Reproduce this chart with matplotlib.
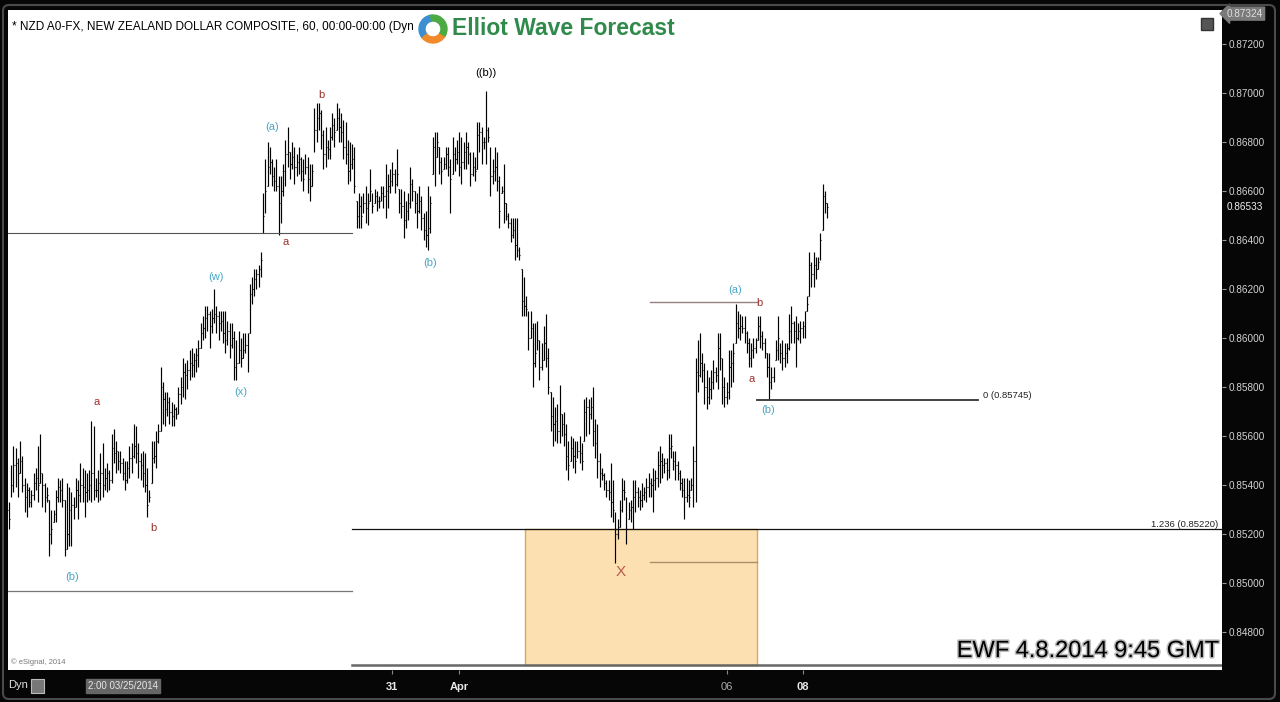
import numpy as np
import matplotlib.pyplot as plt
import matplotlib.patheffects as pe
from matplotlib.patches import Rectangle, Wedge, FancyBboxPatch

plt.rcParams['font.family'] = ['Liberation Sans', 'DejaVu Sans']

# ---------------- hourly bars ----------------
high = [
    0.8533, 0.8548, 0.8556, 0.8555, 0.8551, 0.8558, 0.8552, 0.8543, 0.8541, 0.8539,
    0.8538, 0.8545, 0.8547, 0.8556, 0.8561, 0.8545, 0.8541, 0.8539, 0.8534, 0.8530,
    0.8530, 0.8538, 0.8543, 0.8542, 0.8543, 0.8534, 0.8541, 0.8539, 0.8537, 0.8535,
    0.8543, 0.8542, 0.8549, 0.8547, 0.8546, 0.8545, 0.8546, 0.8566, 0.8564, 0.8543,
    0.8546, 0.8553, 0.8557, 0.8547, 0.8549, 0.8546, 0.8561, 0.8563, 0.8558, 0.8554,
    0.8554, 0.8551, 0.8550, 0.8550, 0.8556, 0.8557, 0.8565, 0.8564, 0.8557, 0.8553,
    0.8554, 0.8553, 0.8547, 0.8538, 0.8558, 0.8558, 0.8562, 0.8565, 0.8588, 0.8582,
    0.8578, 0.8578, 0.8576, 0.8574, 0.8573, 0.8572, 0.8580, 0.8584, 0.8592, 0.8590,
    0.8591, 0.8595, 0.8596, 0.8594, 0.8596, 0.8599, 0.8606, 0.8609, 0.8613, 0.8613,
    0.8611, 0.8612, 0.8620, 0.8613, 0.8611, 0.8611, 0.8611, 0.8611, 0.8607, 0.8606,
    0.8606, 0.8603, 0.8599, 0.8603, 0.8600, 0.8602, 0.8602, 0.8602, 0.8622, 0.8625,
    0.8628, 0.8628, 0.8630,
    0.8635, 0.8659, 0.8673, 0.8680, 0.8678, 0.8673, 0.8670, 0.8673, 0.8666, 0.8666,
    0.8671, 0.8681, 0.8686, 0.8676, 0.8680, 0.8678, 0.8675, 0.8678, 0.8674, 0.8673,
    0.8675, 0.8674, 0.8671, 0.8671, 0.8694, 0.8696, 0.8696, 0.8693, 0.8685, 0.8686,
    0.8681, 0.8686, 0.8692, 0.8690, 0.8696, 0.8694, 0.8692, 0.8689, 0.8688, 0.8681,
    0.8680, 0.8679, 0.8678, 0.8656, 0.8659, 0.8658, 0.8659, 0.8662, 0.8659, 0.8669,
    0.8659, 0.8661, 0.8660, 0.8658, 0.8662, 0.8662, 0.8671, 0.8667, 0.8669, 0.8672,
    0.8669, 0.8677, 0.8661, 0.8661, 0.8660, 0.8656, 0.8659, 0.8670, 0.8665, 0.8660,
    0.8659, 0.8662, 0.8658, 0.8651, 0.8652, 0.8662, 0.8658, 0.8682, 0.8684, 0.8684,
    0.8678, 0.8674, 0.8674, 0.8678, 0.8678, 0.8673, 0.8682, 0.8678, 0.8681, 0.8684,
    0.8682, 0.8680, 0.8684, 0.8680, 0.8676, 0.8676, 0.8674, 0.8688, 0.8688, 0.8686,
    0.8682, 0.8701, 0.8686, 0.8678, 0.8673, 0.8678, 0.8676, 0.8666, 0.8662, 0.8671,
    0.8655, 0.8651, 0.8649, 0.8649, 0.8649,
    0.8649, 0.8637, 0.8628, 0.8625, 0.8617, 0.8611, 0.8611, 0.8606, 0.8606, 0.8607,
    0.8599, 0.8598, 0.8605, 0.8610, 0.8596,
    0.8578, 0.8576, 0.8572, 0.8573, 0.8581, 0.8569, 0.8570, 0.8565, 0.8558, 0.8560,
    0.8559, 0.8558, 0.8558, 0.8560, 0.8557, 0.8575, 0.8576, 0.8575, 0.8576, 0.8580,
    0.8567, 0.8565, 0.8553, 0.8547, 0.8545, 0.8542, 0.8542, 0.8549, 0.8542, 0.8529,
    0.8526, 0.8534, 0.8543, 0.8542, 0.8535, 0.8533, 0.8534, 0.8542, 0.8542, 0.8539,
    0.8538, 0.8541, 0.8539, 0.8543, 0.8545, 0.8543, 0.8547, 0.8546, 0.8554, 0.8556,
    0.8553, 0.8551, 0.8551, 0.8561, 0.8561, 0.8554, 0.8554, 0.8550, 0.8546, 0.8543,
    0.8543, 0.8543, 0.8542, 0.8543,
    0.8556, 0.8592, 0.8599, 0.8602, 0.8594, 0.8590, 0.8587, 0.8584, 0.8587, 0.8591,
    0.8588, 0.8602, 0.8602, 0.8592, 0.8584, 0.8582, 0.8595, 0.8595, 0.8598, 0.8614,
    0.8611, 0.8610, 0.8609, 0.8609, 0.8603, 0.8600, 0.8598, 0.8600, 0.8600, 0.8609,
    0.8609, 0.8603, 0.8600, 0.8594, 0.8594, 0.8588, 0.8588, 0.8599, 0.8609, 0.8598,
    0.8599, 0.8598, 0.8598, 0.8610, 0.8613, 0.8607, 0.8609, 0.8606, 0.8607, 0.8607,
    0.8611, 0.8617, 0.8635, 0.8631, 0.8635, 0.8633, 0.8633, 0.8643, 0.8663, 0.8660,
    0.8655,
]

low = [
    0.8522, 0.8535, 0.8537, 0.8539, 0.8535, 0.8545, 0.8537, 0.8529, 0.8527, 0.8531,
    0.8531, 0.8534, 0.8538, 0.8533, 0.8541, 0.8531, 0.8529, 0.8533, 0.8511, 0.8516,
    0.8525, 0.8525, 0.8533, 0.8533, 0.8531, 0.8511, 0.8514, 0.8515, 0.8515, 0.8526,
    0.8531, 0.8526, 0.8533, 0.8533, 0.8527, 0.8533, 0.8534, 0.8533, 0.8534, 0.8535,
    0.8533, 0.8534, 0.8535, 0.8538, 0.8537, 0.8538, 0.8541, 0.8549, 0.8545, 0.8546,
    0.8545, 0.8542, 0.8538, 0.8541, 0.8543, 0.8545, 0.8551, 0.8549, 0.8543, 0.8542,
    0.8539, 0.8537, 0.8527, 0.8533, 0.8541, 0.8549, 0.8547, 0.8557, 0.8562, 0.8565,
    0.8564, 0.8568, 0.8565, 0.8564, 0.8564, 0.8567, 0.8569, 0.8573, 0.8576, 0.8575,
    0.8579, 0.8583, 0.8584, 0.8584, 0.8586, 0.8588, 0.8596, 0.8599, 0.8600, 0.8603,
    0.8596, 0.8602, 0.8606, 0.8602, 0.8599, 0.8603, 0.8598, 0.8594, 0.8597, 0.8592,
    0.8596, 0.8583, 0.8583, 0.8590, 0.8588, 0.8592, 0.8594, 0.8586, 0.8602, 0.8614,
    0.8617, 0.8620, 0.8621,
    0.8625, 0.8643, 0.8651, 0.8662, 0.8667, 0.8662, 0.8660, 0.8660, 0.8642, 0.8647,
    0.8658, 0.8662, 0.8670, 0.8665, 0.8669, 0.8663, 0.8666, 0.8667, 0.8664, 0.8660,
    0.8667, 0.8659, 0.8656, 0.8662, 0.8676, 0.8680, 0.8685, 0.8677, 0.8669, 0.8670,
    0.8673, 0.8673, 0.8681, 0.8678, 0.8685, 0.8680, 0.8680, 0.8673, 0.8671, 0.8663,
    0.8664, 0.8669, 0.8659, 0.8645, 0.8645, 0.8645, 0.8651, 0.8647, 0.8646, 0.8656,
    0.8651, 0.8655, 0.8652, 0.8653, 0.8656, 0.8653, 0.8649, 0.8653, 0.8659, 0.8662,
    0.8659, 0.8662, 0.8651, 0.8649, 0.8641, 0.8645, 0.8648, 0.8653, 0.8656, 0.8651,
    0.8645, 0.8651, 0.8644, 0.8640, 0.8637, 0.8636, 0.8643, 0.8667, 0.8662, 0.8674,
    0.8667, 0.8663, 0.8669, 0.8669, 0.8666, 0.8651, 0.8667, 0.8668, 0.8671, 0.8666,
    0.8663, 0.8669, 0.8669, 0.8671, 0.8662, 0.8666, 0.8664, 0.8669, 0.8676, 0.8671,
    0.8677, 0.8671, 0.8680, 0.8658, 0.8663, 0.8664, 0.8660, 0.8645, 0.8659, 0.8647,
    0.8648, 0.8645, 0.8639, 0.8641, 0.8632,
    0.8633, 0.8632, 0.8609, 0.8609, 0.8609, 0.8595, 0.8600, 0.8580, 0.8588, 0.8595,
    0.8583, 0.8587, 0.8591, 0.8588, 0.8577,
    0.8562, 0.8556, 0.8558, 0.8557, 0.8557, 0.8560, 0.8556, 0.8546, 0.8542, 0.8550,
    0.8547, 0.8545, 0.8551, 0.8549, 0.8546, 0.8558, 0.8560, 0.8561, 0.8567, 0.8556,
    0.8551, 0.8543, 0.8539, 0.8542, 0.8538, 0.8535, 0.8534, 0.8527, 0.8525, 0.8508,
    0.8518, 0.8523, 0.8529, 0.8534, 0.8516, 0.8526, 0.8525, 0.8522, 0.8529, 0.8531,
    0.8530, 0.8531, 0.8534, 0.8533, 0.8535, 0.8535, 0.8529, 0.8538, 0.8539, 0.8541,
    0.8543, 0.8545, 0.8542, 0.8543, 0.8551, 0.8546, 0.8542, 0.8542, 0.8538, 0.8535,
    0.8526, 0.8533, 0.8531, 0.8538,
    0.8531, 0.8533, 0.8578, 0.8584, 0.8582, 0.8573, 0.8571, 0.8573, 0.8575, 0.8579,
    0.8582, 0.8579, 0.8587, 0.8573, 0.8572, 0.8573, 0.8575, 0.8580, 0.8582, 0.8598,
    0.8600, 0.8599, 0.8602, 0.8598, 0.8594, 0.8588, 0.8588, 0.8592, 0.8594, 0.8599,
    0.8596, 0.8595, 0.8592, 0.8584, 0.8575, 0.8579, 0.8582, 0.8591, 0.8591, 0.8590,
    0.8587, 0.8588, 0.8590, 0.8595, 0.8598, 0.8598, 0.8588, 0.8599, 0.8598, 0.8600,
    0.8600, 0.8611, 0.8617, 0.8621, 0.8621, 0.8624, 0.8628, 0.8632, 0.8644, 0.8651,
    0.8649,
]

close = [
    0.8526, 0.8540, 0.8548, 0.8549, 0.8545, 0.8550, 0.8540, 0.8535, 0.8538, 0.8533,
    0.8536, 0.8541, 0.8543, 0.8540, 0.8545, 0.8540, 0.8535, 0.8536, 0.8520, 0.8522,
    0.8528, 0.8535, 0.8539, 0.8538, 0.8534, 0.8513, 0.8520, 0.8530, 0.8532, 0.8531,
    0.8538, 0.8536, 0.8540, 0.8539, 0.8537, 0.8538, 0.8540, 0.8545, 0.8538, 0.8538,
    0.8541, 0.8545, 0.8540, 0.8543, 0.8545, 0.8542, 0.8555, 0.8553, 0.8554, 0.8550,
    0.8549, 0.8545, 0.8542, 0.8547, 0.8551, 0.8552, 0.8556, 0.8553, 0.8550, 0.8548,
    0.8545, 0.8540, 0.8532, 0.8535, 0.8551, 0.8552, 0.8558, 0.8562, 0.8580, 0.8575,
    0.8571, 0.8574, 0.8570, 0.8568, 0.8571, 0.8569, 0.8577, 0.8580, 0.8586, 0.8585,
    0.8587, 0.8590, 0.8589, 0.8591, 0.8593, 0.8596, 0.8602, 0.8604, 0.8608, 0.8610,
    0.8605, 0.8608, 0.8610, 0.8609, 0.8606, 0.8607, 0.8602, 0.8599, 0.8603, 0.8597,
    0.8600, 0.8588, 0.8590, 0.8595, 0.8592, 0.8595, 0.8597, 0.8600, 0.8618, 0.8620,
    0.8624, 0.8626, 0.8628,
    0.8632, 0.8650, 0.8660, 0.8670, 0.8672, 0.8666, 0.8664, 0.8662, 0.8655, 0.8660,
    0.8668, 0.8675, 0.8678, 0.8671, 0.8674, 0.8670, 0.8672, 0.8673, 0.8668, 0.8665,
    0.8670, 0.8665, 0.8662, 0.8668, 0.8685, 0.8690, 0.8692, 0.8683, 0.8675, 0.8678,
    0.8677, 0.8682, 0.8687, 0.8684, 0.8690, 0.8686, 0.8684, 0.8678, 0.8675, 0.8668,
    0.8671, 0.8673, 0.8662, 0.8650, 0.8654, 0.8650, 0.8655, 0.8653, 0.8655, 0.8660,
    0.8654, 0.8658, 0.8656, 0.8656, 0.8659, 0.8658, 0.8660, 0.8662, 0.8664, 0.8667,
    0.8663, 0.8667, 0.8655, 0.8654, 0.8648, 0.8652, 0.8655, 0.8663, 0.8660, 0.8655,
    0.8652, 0.8656, 0.8649, 0.8644, 0.8642, 0.8645, 0.8655, 0.8678, 0.8670, 0.8680,
    0.8672, 0.8668, 0.8671, 0.8675, 0.8670, 0.8665, 0.8675, 0.8673, 0.8676, 0.8670,
    0.8672, 0.8676, 0.8678, 0.8675, 0.8667, 0.8670, 0.8668, 0.8683, 0.8684, 0.8680,
    0.8680, 0.8685, 0.8682, 0.8666, 0.8668, 0.8670, 0.8664, 0.8652, 0.8660, 0.8655,
    0.8650, 0.8647, 0.8642, 0.8644, 0.8638,
    0.8636, 0.8634, 0.8615, 0.8613, 0.8612, 0.8600, 0.8604, 0.8590, 0.8594, 0.8599,
    0.8588, 0.8591, 0.8598, 0.8592, 0.8580,
    0.8568, 0.8565, 0.8566, 0.8562, 0.8570, 0.8565, 0.8561, 0.8552, 0.8548, 0.8555,
    0.8552, 0.8550, 0.8554, 0.8553, 0.8550, 0.8570, 0.8572, 0.8569, 0.8572, 0.8562,
    0.8557, 0.8550, 0.8545, 0.8544, 0.8541, 0.8538, 0.8537, 0.8533, 0.8530, 0.8520,
    0.8522, 0.8530, 0.8538, 0.8537, 0.8522, 0.8530, 0.8531, 0.8535, 0.8537, 0.8535,
    0.8534, 0.8536, 0.8537, 0.8539, 0.8541, 0.8540, 0.8542, 0.8543, 0.8548, 0.8550,
    0.8548, 0.8549, 0.8546, 0.8555, 0.8556, 0.8550, 0.8548, 0.8545, 0.8541, 0.8538,
    0.8535, 0.8536, 0.8535, 0.8540,
    0.8550, 0.8586, 0.8585, 0.8590, 0.8587, 0.8580, 0.8576, 0.8579, 0.8582, 0.8586,
    0.8585, 0.8596, 0.8592, 0.8580, 0.8576, 0.8578, 0.8588, 0.8590, 0.8594, 0.8606,
    0.8604, 0.8605, 0.8604, 0.8602, 0.8598, 0.8592, 0.8595, 0.8596, 0.8598, 0.8605,
    0.8601, 0.8598, 0.8595, 0.8588, 0.8582, 0.8584, 0.8586, 0.8595, 0.8600, 0.8594,
    0.8592, 0.8594, 0.8596, 0.8603, 0.8606, 0.8603, 0.8600, 0.8603, 0.8604, 0.8605,
    0.8608, 0.8614, 0.8630, 0.8626, 0.8630, 0.8628, 0.8631, 0.8640, 0.8658, 0.8655,
    0.86533,
]

# date labels (bar index where each day starts on the chart)
date_pos = [172, 202, 322, 356]
date_lab = ['31', 'Apr', '06', '08']
date_bold = [True, True, False, True]

price_ticks = [0.848, 0.850, 0.852, 0.854, 0.856, 0.858, 0.860,
               0.862, 0.864, 0.866, 0.868, 0.870, 0.872]
last_price = 0.86533
top_price = 0.87324

# wave labels: text, bar index, price, colour
teal = '#4aa6c4'
red = '#9c2f2a'
waves = [
    ('((b))', 214, 0.87082, 'black'),
    ('b', 140, 0.86992, red),
    ('(a)', 118, 0.86861, teal),
    ('a', 124, 0.86392, red),
    ('(w)', 93, 0.86249, teal),
    ('(x)', 104, 0.85780, teal),
    ('(b)', 189, 0.86306, teal),
    ('a', 39.5, 0.85739, red),
    ('b', 65, 0.85224, red),
    ('(b)', 28.3, 0.85024, teal),
    ('(a)', 325.7, 0.86196, teal),
    ('b', 336.5, 0.86143, red),
    ('a', 333, 0.85833, red),
    ('(b)', 340.5, 0.85706, teal),
]

fib_0 = 0.85745
fib_1236 = 0.85220

# ---------------- figure ----------------
fig = plt.figure(figsize=(12.8, 7.02), dpi=100, facecolor='#060606')
ax = fig.add_axes([8 / 1280, 32 / 702, 1214 / 1280, 660 / 702])
ax.set_facecolor('white')

n = len(close)
x = np.arange(n)
hi = np.array(high[:n])
lo = np.array(low[:n])
cl = np.array(close)
op = np.concatenate([[0.8530], cl[:-1]])
op = np.clip(op, lo, hi)

ax.vlines(x, lo, hi, color='black', lw=0.85)
ax.hlines(op, x - 0.32, x, color='black', lw=0.8)
ax.hlines(cl, x, x + 0.32, color='black', lw=0.8)

ax.set_xlim(-0.45, 544.2)
ax.set_ylim(0.846449, 0.873388)

# horizontal levels (x extents in axes fraction)
ya = ax.get_yaxis_transform()
ax.add_patch(Rectangle((0.4259, 0.84665), 0.6170 - 0.4259, fib_1236 - 0.84665,
                       transform=ya, facecolor='#fde0b2', edgecolor='#d8aa55',
                       lw=1.0, zorder=0.5))
ax.axhline(0.86429, 0, 0.2834, color='#555555', lw=0.8)
ax.axhline(0.84967, 0, 0.2834, color='#777777', lw=0.9)
ax.axhline(fib_1236, 0.2834, 1, color='#111111', lw=0.9)
ax.axhline(0.84665, 0.2834, 1, color='#666666', lw=1.8)
ax.axhline(0.86147, 0.5288, 0.6178, color='#9a8080', lw=1.0)
ax.axhline(0.85086, 0.5288, 0.6170, color='#a8916a', lw=1.0)
ax.axhline(fib_0, 0.6170, 0.7990, color='#333333', lw=1.3)

ax.text(0.8032, fib_0 + 0.0002, '0 (0.85745)', transform=ya, fontsize=6.8,
        va='center', ha='left', color='#222222')
ax.text(0.9967, fib_1236 + 0.0002, '1.236 (0.85220)', transform=ya, fontsize=6.8,
        va='center', ha='right', color='#222222')

for txt, xi, yp, c in waves:
    ax.text(xi, yp, txt, fontsize=8, color=c, ha='center', va='center')
ax.text(274.6, 0.85045, 'X', fontsize=11, color='#b65a48', ha='center', va='center')

# axes styling
for s in ax.spines.values():
    s.set_visible(False)
ax.yaxis.tick_right()
ax.set_yticks(price_ticks)
ax.set_yticklabels(['%.5f' % p for p in price_ticks])
ax.tick_params(axis='y', which='both', right=True, length=3, width=0.8,
               color='#999999', labelcolor='#d2d2d2', labelsize=7.2, pad=2)
ax.set_xticks(date_pos)
ax.set_xticklabels(date_lab)
ax.tick_params(axis='x', length=3, width=0.8, color='#888888', pad=6,
               labelsize=8)
for lab, b in zip(ax.get_xticklabels(), date_bold):
    lab.set_fontweight('bold' if b else 'normal')
    lab.set_color('#e8e8e8' if b else '#aaaaaa')

ax.text(1.004, last_price, '0.86533', transform=ya, fontsize=7.2,
        color='#f0f0f0', va='center', ha='left')
ax.text(1.004, top_price, '0.87324', transform=ya, fontsize=7.2,
        color='#e0e0e0', va='center', ha='left',
        bbox=dict(boxstyle='larrow,pad=0.15', fc='#7a7a7a', ec='#7a7a7a'))

# header text and logo
ax.text(0.003, 0.983, '* NZD A0-FX, NEW ZEALAND DOLLAR COMPOSITE, 60, 00:00-00:00 (Dyn',
        transform=ax.transAxes, fontsize=8.5, va='top', ha='left', color='black')
ax.text(0.3657, 0.972, 'Elliot Wave Forecast', transform=ax.transAxes,
        fontsize=16.5, fontweight='bold', color='#2f8a4c', va='center', ha='left')
for t1, t2, c in [(100, 220, '#3b8fd0'), (220, 330, '#f08a2a'), (330, 460, '#4caa44')]:
    fig.patches.append(Wedge((433, 702 - 29), 14, t1, t2, width=6, color=c,
                             transform=None, figure=fig))

ax.text(0.0025, 0.006, '\u00a9 eSignal, 2014', transform=ax.transAxes,
        fontsize=5.5, color='#777777', va='bottom', ha='left')

# EWF stamp
ax.text(0.9975, 0.012, 'EWF 4.8.2014 9:45 GMT', transform=ax.transAxes,
        fontsize=17, color='black', va='bottom', ha='right',
        path_effects=[pe.withStroke(linewidth=2.2, foreground='#bbbbbb')])

# small window icon top right
fig.patches.append(Rectangle((1201, 702 - 30), 12, 12, transform=None,
                             facecolor='#555555', edgecolor='#333333', figure=fig))

# bottom bar items
fig.text(8 / 1280, 1 - 685 / 702, 'Dyn', fontsize=8, color='#e0e0e0',
         va='center', ha='left')
fig.patches.append(Rectangle((31, 702 - 693), 13, 14, transform=None,
                             facecolor='#777777', edgecolor='#bbbbbb', lw=0.8,
                             figure=fig))
fig.text(123 / 1280, 1 - 686 / 702, '2:00 03/25/2014', fontsize=7, color='#e6e6e6',
         va='center', ha='center',
         bbox=dict(boxstyle='square,pad=0.25', fc='#666666', ec='#666666'))

# outer frame
fig.patches.append(FancyBboxPatch((3, 3), 1272, 694, boxstyle='round,pad=0,rounding_size=6',
                                  transform=None, facecolor='none',
                                  edgecolor='#4a4a4a', lw=1.5, figure=fig))

fig.savefig('out.png', dpi=100, facecolor=fig.get_facecolor())
